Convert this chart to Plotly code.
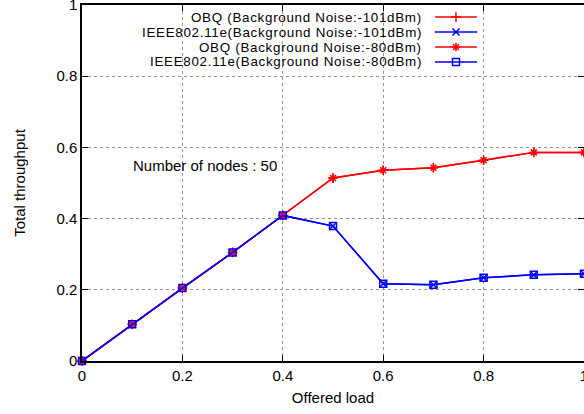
import plotly.graph_objects as go

# Offered load (x) and total throughput for each scheme / noise level
offered_load = [0.0, 0.1, 0.2, 0.3, 0.4, 0.5, 0.6, 0.7, 0.8, 0.9, 1.0]
obq_101 = [0.0, 0.103, 0.205, 0.305, 0.409, 0.514, 0.536, 0.543, 0.564, 0.586, 0.586]
ieee_101 = [0.0, 0.103, 0.205, 0.305, 0.409, 0.379, 0.217, 0.214, 0.234, 0.242, 0.245]
obq_80 = [0.0, 0.103, 0.205, 0.305, 0.409, 0.514, 0.536, 0.543, 0.564, 0.586, 0.586]
ieee_80 = [0.0, 0.103, 0.205, 0.305, 0.409, 0.379, 0.217, 0.214, 0.234, 0.242, 0.245]

series_names = [
    "OBQ (Background Noise:-101dBm)",
    "IEEE802.11e(Background Noise:-101dBm)",
    "OBQ (Background Noise:-80dBm)",
    "IEEE802.11e(Background Noise:-80dBm)",
]
series_values = [obq_101, ieee_101, obq_80, ieee_80]
series_colors = ["rgb(255,0,0)", "rgb(0,0,255)", "rgb(255,0,0)", "rgb(0,0,255)"]
series_symbols = ["cross-thin-open", "x-thin-open", "asterisk-open", "square-open"]

tick_vals = [0, 0.2, 0.4, 0.6, 0.8, 1]
tick_text = ["0", "0.2", "0.4", "0.6", "0.8", "1"]

FONT = "Liberation Sans, Arial, sans-serif"

fig = go.Figure()

for name, vals, col, sym in zip(series_names, series_values, series_colors, series_symbols):
    fig.add_trace(go.Scatter(
        x=offered_load, y=vals, name=name, mode="lines+markers",
        line=dict(color=col, width=1.5),
        marker=dict(symbol=sym, size=7, color=col, line=dict(color=col, width=1.5)),
        showlegend=False, cliponaxis=False,
    ))

# Key (gnuplot style: label on the left, sample on the right), drawn on an overlay axis
key_rows = [0.966, 0.924, 0.882, 0.840]
key_x0, key_x1, key_mx, key_tx = 0.703, 0.787, 0.745, 0.679
for name, col, sym, ky in zip(series_names, series_colors, series_symbols, key_rows):
    fig.add_trace(go.Scatter(
        x=[key_x0, key_x1], y=[ky, ky], mode="lines", xaxis="x2", yaxis="y2",
        line=dict(color=col, width=1.5), showlegend=False, hoverinfo="skip",
    ))
    fig.add_trace(go.Scatter(
        x=[key_mx], y=[ky], mode="markers", xaxis="x2", yaxis="y2",
        marker=dict(symbol=sym, size=7, color=col, line=dict(color=col, width=1.5)),
        showlegend=False, hoverinfo="skip",
    ))
    fig.add_annotation(
        x=key_tx, y=ky, xref="x2", yref="y2",
        text="<span style='letter-spacing:0.7px'>%s</span>" % name,
        showarrow=False, xanchor="right", yanchor="middle", borderpad=0,
        font=dict(family=FONT, size=13.4, color="black"),
    )

# Opaque key background hides the grid behind it
fig.add_shape(type="rect", xref="x2", yref="y2", x0=0.105, x1=1.0, y0=0.818, y1=1.0,
              fillcolor="white", line=dict(width=0), layer="below")

fig.add_annotation(
    x=0.098, y=0.55, xref="x", yref="y", text="Number of nodes : 50", showarrow=False,
    xanchor="left", yanchor="middle", font=dict(family=FONT, size=15, color="black"),
)

axis_common = dict(
    showline=True, linecolor="black", linewidth=1.5, mirror="ticks",
    ticks="inside", ticklen=6, tickwidth=1, tickcolor="black",
    showgrid=True, gridcolor="rgb(150,150,150)", griddash="dot", gridwidth=1,
    zeroline=False, tickfont=dict(family=FONT, size=15, color="black"),
    tickvals=tick_vals, ticktext=tick_text, ticklabeloverflow="allow",
    automargin=False,
)

fig.update_layout(
    width=584, height=414,
    margin=dict(l=82, r=0, t=5, b=53),
    paper_bgcolor="white", plot_bgcolor="white",
    font=dict(family=FONT, size=15, color="black"),
    xaxis=dict(range=[0, 1], title=dict(text="Offered load", standoff=10,
               font=dict(family=FONT, size=15)), **axis_common),
    yaxis=dict(range=[0, 1], title=dict(text="Total throughput", standoff=27,
               font=dict(family=FONT, size=15)), **axis_common),
    xaxis2=dict(range=[0, 1], overlaying="x", visible=False, fixedrange=True),
    yaxis2=dict(range=[0, 1], overlaying="y", visible=False, fixedrange=True),
    showlegend=False,
)

fig.write_html("out.html")
